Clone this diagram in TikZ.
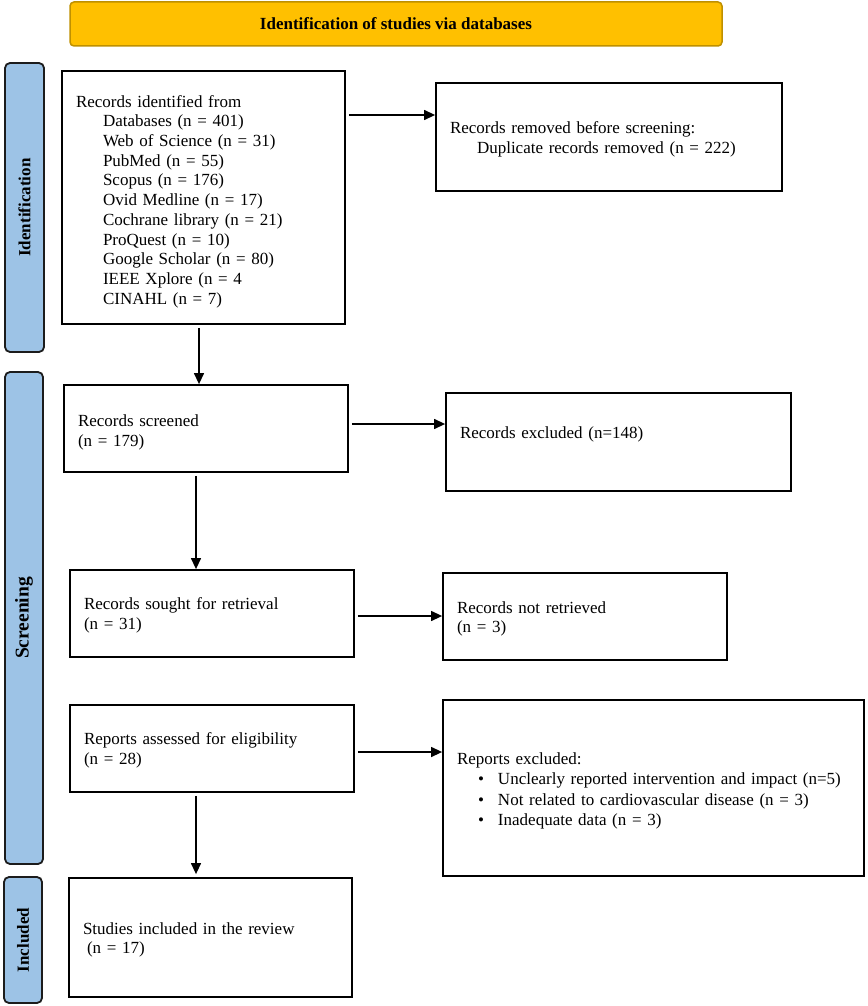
\documentclass[tikz,border=0pt]{standalone}
\usepackage{fontspec}
\setmainfont{Liberation Serif}
\usetikzlibrary{arrows.meta,calc}
\definecolor{gold}{HTML}{FFC000}
\definecolor{golddark}{HTML}{BF9000}
\definecolor{sideblue}{HTML}{9DC3E6}
\definecolor{sideedge}{HTML}{1C1C1C}
\begin{document}
\begin{tikzpicture}[x=1pt,y=-1pt,
  box/.style={draw=black, line width=1.8pt, fill=white, inner sep=0pt},
  txt/.style={align=left, inner xsep=14pt, inner ysep=0pt, font=\fontsize{17}{19.7}\selectfont},
  side/.style={draw=sideedge, fill=sideblue, line width=1.8pt, rounded corners=5pt, rotate=90,
    inner sep=0pt, font=\bfseries\fontsize{17}{20}\selectfont},
  arr/.style={line width=1.3pt, -{Triangle[length=11pt,width=10pt]}, shorten <=3pt},
  banner/.style={draw=golddark, fill=gold, line width=1.5pt, rounded corners=4pt,
    font=\bfseries\fontsize{17}{20}\selectfont},
]
\useasboundingbox (0,0) rectangle (867,1006);

% banner
\node[banner, minimum width=652pt, minimum height=44pt] (T) at (396,24) {Identification of studies via databases};

% side bars
\node[side, minimum width=289pt, minimum height=39pt] (S1) at (24.5,207.5) {Identification};
\node[side, minimum width=492pt, minimum height=38pt, font=\bfseries\fontsize{19.5}{22}\selectfont] (S2) at (24,618) {Screening};
\node[side, minimum width=126pt, minimum height=38pt] (S3) at (23,940) {Included};

% box frames
\node[box, minimum width=283pt, minimum height=253pt] (B1) at (203.5,197.5) {};
\node[box, minimum width=346pt, minimum height=108pt] (B2) at (609,137) {};
\node[box, minimum width=284pt, minimum height=87pt] (B3) at (206,428.5) {};
\node[box, minimum width=345pt, minimum height=98pt] (B4) at (618.5,442) {};
\node[box, minimum width=284pt, minimum height=87pt] (B5) at (212,613.5) {};
\node[box, minimum width=284pt, minimum height=87pt] (B6) at (585,616.5) {};
\node[box, minimum width=284pt, minimum height=87pt] (B7) at (212,748.5) {};
\node[box, minimum width=421pt, minimum height=176pt] (B8) at (653.5,788) {};
\node[box, minimum width=283pt, minimum height=119pt] (B9) at (210.5,937.5) {};

% box texts
\node[txt, text width=255pt] (t1) at (203.5,201.5)
 {Records identified from\\
  \hspace*{27pt}Databases (n = 401)\\
  \hspace*{27pt}Web of Science (n = 31)\\
  \hspace*{27pt}PubMed (n = 55)\\
  \hspace*{27pt}Scopus (n = 176)\\
  \hspace*{27pt}Ovid Medline (n = 17)\\
  \hspace*{27pt}Cochrane library (n = 21)\\
  \hspace*{27pt}ProQuest (n = 10)\\
  \hspace*{27pt}Google Scholar (n = 80)\\
  \hspace*{27pt}IEEE Xplore (n = 4\\
  \hspace*{27pt}CINAHL (n = 7)};
\node[txt, text width=318pt] (t2) at (609,139)
 {Records removed before screening:\\
  \hspace*{27pt}Duplicate records removed (n = 222)};
\node[txt, text width=256pt] (t3) at (206,432.5) {Records screened\\(n = 179)};
\node[txt, text width=317pt] (t4) at (618.5,434) {Records excluded (n=148)};
\node[txt, text width=256pt] (t5) at (212,615) {Records sought for retrieval\\(n = 31)};
\node[txt, text width=256pt] (t6) at (585,619) {Records not retrieved\\(n = 3)};
\node[txt, text width=256pt] (t7) at (212,750.5) {Reports assessed for eligibility\\(n = 28)};
\node[txt, text width=393pt, font=\fontsize{17}{20.6}\selectfont] (t8) at (653.5,791)
 {Reports excluded:\\
  \hspace*{21pt}\makebox[20pt][l]{\textbullet}Unclearly reported intervention and impact (n=5)\\
  \hspace*{21pt}\makebox[20pt][l]{\textbullet}Not related to cardiovascular disease (n = 3)\\
  \hspace*{21pt}\makebox[20pt][l]{\textbullet}Inadequate data (n = 3)};
\node[txt, text width=255pt] (t9) at (210.5,940) {Studies included in the review\\\hspace*{4pt}(n = 17)};

% connector guide coordinates
\coordinate (yA1) at (0,115);
\coordinate (xA2) at (199,0);
\coordinate (yA3) at (0,424);
\coordinate (xA4) at (196,0);
\coordinate (yA5) at (0,616);
\coordinate (yA6) at (0,752);

% connectors
\draw[arr] (B1.east |- yA1) -- (B2.west |- yA1);
\draw[arr] (B1.south -| xA2) -- (B3.north -| xA2);
\draw[arr] (B3.east |- yA3) -- (B4.west |- yA3);
\draw[arr] (B3.south -| xA4) -- (B5.north -| xA4);
\draw[arr] (B5.east |- yA5) -- (B6.west |- yA5);
\draw[arr] (B7.east |- yA6) -- (B8.west |- yA6);
\draw[arr, shorten >=3pt] (B7.south -| xA4) -- (B9.north -| xA4);
\end{tikzpicture}
\end{document}
